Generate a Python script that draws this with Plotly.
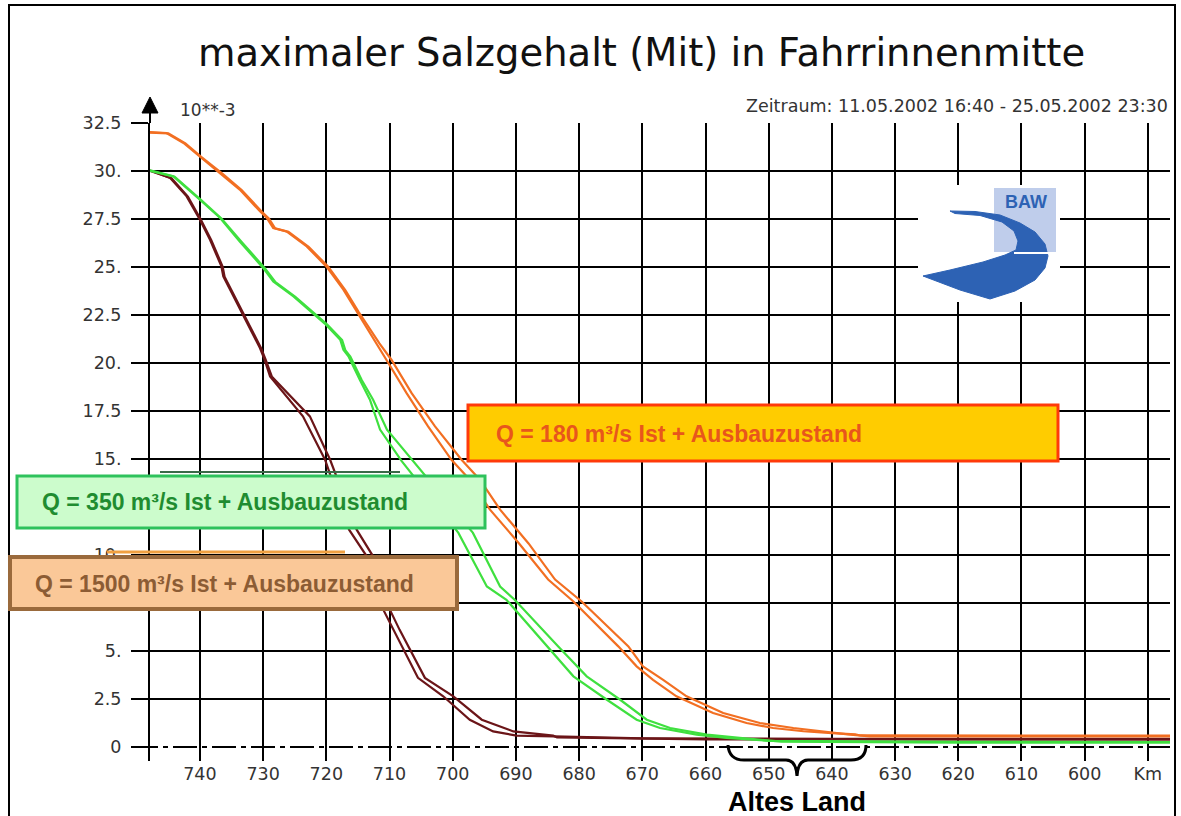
import plotly.graph_objects as go

# ---------------- data (salinity in 10**-3, along river km) ----------------
km_180_ist = [747.9, 745.3, 742.6, 740.0, 736.8, 733.7, 730.5, 729.4, 728.4, 726.3, 723.1, 720.0,
              717.3, 715.2, 712.0, 710.5, 707.3, 703.9, 700.2, 697.3, 694.1, 689.5, 684.9, 680.9,
              673.8, 670.9, 668.3, 664.6, 658.8, 653.5, 649.3, 644.5, 640.0, 636.3, 635.5, 620.0, 600.0, 586.5]
sal_180_ist = [32.02, 31.98, 31.46, 30.76, 29.90, 29.03, 27.90, 27.55, 27.03, 26.85, 26.07, 25.03,
               23.82, 22.69, 21.04, 20.17, 18.43, 16.70, 14.96, 13.92, 12.36, 10.60, 8.72, 7.58,
               5.24, 4.20, 3.50, 2.64, 1.77, 1.25, 0.99, 0.82, 0.72, 0.66, 0.60, 0.59, 0.59, 0.59]

km_180_aus = [747.9, 745.0, 742.3, 739.8, 736.5, 733.4, 730.2, 729.1, 728.1, 726.0, 722.8, 719.7,
              717.0, 714.9, 711.6, 709.7, 706.5, 702.8, 698.6, 695.7, 692.5, 688.0, 683.8, 679.6,
              672.2, 669.9, 666.7, 663.0, 657.2, 651.4, 646.1, 641.5, 637.5, 634.0, 620.0, 600.0, 586.5]
sal_180_aus = [32.00, 31.96, 31.44, 30.74, 29.88, 29.01, 27.88, 27.53, 27.01, 26.83, 26.05, 25.01,
               23.80, 22.67, 21.02, 20.17, 18.43, 16.70, 14.96, 13.92, 12.36, 10.60, 8.72, 7.58,
               5.24, 4.20, 3.50, 2.64, 1.77, 1.25, 0.99, 0.80, 0.66, 0.55, 0.55, 0.55, 0.55]

km_350_ist = [747.9, 744.2, 740.0, 736.8, 733.7, 730.0, 728.4, 725.2, 720.2, 717.8, 717.3, 716.5,
              714.7, 713.1, 711.5, 708.1, 699.1, 694.6, 691.5, 685.1, 680.9, 675.6, 670.9, 667.2,
              661.4, 656.7, 650.0, 620.0, 586.5]
sal_350_ist = [30.03, 29.72, 28.50, 27.55, 26.33, 24.95, 24.25, 23.47, 22.04, 21.21, 20.69, 20.35,
               19.13, 18.09, 16.53, 14.90, 11.15, 8.36, 7.67, 5.24, 3.68, 2.46, 1.42, 0.99,
               0.64, 0.47, 0.32, 0.27, 0.26]

km_350_aus = [747.9, 744.0, 739.8, 736.6, 733.4, 729.7, 728.1, 724.9, 719.9, 717.5, 717.0, 716.2,
              714.4, 712.6, 710.4, 706.3, 696.8, 692.5, 690.2, 683.3, 678.8, 673.5, 669.3, 665.6,
              659.8, 654.6, 648.0, 620.0, 586.5]
sal_350_aus = [30.01, 29.70, 28.48, 27.53, 26.31, 24.93, 24.23, 23.45, 22.02, 21.19, 20.67, 20.33,
               19.11, 18.09, 16.53, 14.90, 11.15, 8.36, 7.67, 5.24, 3.68, 2.46, 1.42, 0.99,
               0.64, 0.47, 0.28, 0.22, 0.22]

km_1500_ist = [747.9, 744.7, 742.1, 740.0, 738.4, 736.6, 736.3, 734.2, 732.6, 730.5, 729.8, 728.9,
               723.7, 720.2, 716.4, 713.6, 711.25, 709.4, 705.5, 701.5, 697.3, 693.6, 689.9,
               684.0, 670.0, 640.0, 586.5]
sal_1500_ist = [30.03, 29.64, 28.68, 27.46, 26.42, 25.03, 24.51, 23.13, 22.08, 20.78, 20.20, 19.30,
                17.22, 14.96, 11.32, 9.93, 7.32, 6.10, 3.60, 2.64, 1.42, 0.81, 0.59,
                0.55, 0.45, 0.42, 0.42]

km_1500_aus = [747.9, 744.5, 741.9, 739.8, 738.2, 736.4, 736.1, 734.0, 732.4, 730.3, 729.6, 728.6,
               722.6, 719.4, 715.2, 712.6, 710.2, 708.4, 704.4, 699.9, 695.4, 690.4, 684.1,
               683.5, 660.0, 620.0, 586.5]
sal_1500_aus = [30.01, 29.62, 28.66, 27.44, 26.40, 25.01, 24.49, 23.11, 22.06, 20.76, 20.18, 19.28,
                17.22, 14.96, 11.32, 9.93, 7.32, 6.10, 3.60, 2.64, 1.42, 0.81, 0.59,
                0.50, 0.40, 0.38, 0.38]

x_tickvals = [740, 730, 720, 710, 700, 690, 680, 670, 660, 650, 640, 630, 620, 610, 600, 590]
x_ticktext = ["740", "730", "720", "710", "700", "690", "680", "670", "660", "650", "640",
              "630", "620", "610", "600", "Km"]
y_tickvals = [0, 2.5, 5, 7.5, 10, 12.5, 15, 17.5, 20, 22.5, 25, 27.5, 30, 32.5]
# 12.5 is completely covered by the green label box in the original
y_ticktext = ["0", "2.5", "5.", "7.5", "10.", "", "15.", "17.5", "20.", "22.5", "25.",
              "27.5", "30.", "32.5"]

label_180 = "Q = 180 m³/s Ist + Ausbauzustand"
label_350 = "Q = 350 m³/s Ist + Ausbauzustand"
label_1500 = "Q = 1500 m³/s Ist + Ausbauzustand"

# ---------------- layout geometry (pixels) ----------------
W_FIG, H_FIG = 1181, 816
PL, PR, PT, PB = 150, 1170, 123, 761
PW, PH = PR - PL, PB - PT


def fx(x):
    return (x - PL) / PW


def fy(y):
    return (PB - y) / PH


def path(points, close=True):
    s = "M " + " L ".join(f"{fx(x):.5f},{fy(y):.5f}" for x, y in points)
    return s + (" Z" if close else "")


C_OR = "#F26F22"
C_GR = "#3FE03F"
C_BR = "#6B1518"
AX_FONT = "DejaVu Sans"
TXT = "#333333"

fig = go.Figure()
for kms, vals, col in [
    (km_1500_ist, sal_1500_ist, C_BR), (km_1500_aus, sal_1500_aus, C_BR),
    (km_350_ist, sal_350_ist, C_GR), (km_350_aus, sal_350_aus, C_GR),
    (km_180_ist, sal_180_ist, C_OR), (km_180_aus, sal_180_aus, C_OR),
]:
    fig.add_trace(go.Scatter(x=kms, y=vals, mode="lines",
                             line=dict(color=col, width=2.2), showlegend=False,
                             hoverinfo="skip"))

shapes = []
annotations = []

# outer frame
shapes.append(dict(type="rect", xref="paper", yref="paper", x0=fx(9), x1=fx(1175), y0=fy(830), y1=fy(5),
                   line=dict(color="black", width=2), fillcolor="rgba(0,0,0,0)", layer="above"))
# zero line dash-dot
shapes.append(dict(type="line", xref="paper", yref="y", x0=fx(134), x1=1, y0=0, y1=0,
                   line=dict(color="black", width=2, dash="24px,5px,5px,5px"), layer="above"))
# y axis extension + arrow
shapes.append(dict(type="line", xref="paper", yref="paper", x0=0, x1=0, y0=1, y1=fy(110),
                   line=dict(color="black", width=2), layer="above"))
shapes.append(dict(type="path", xref="paper", yref="paper",
                   path=path([(150, 97), (142, 113), (158, 113)]),
                   fillcolor="black", line=dict(color="black", width=1), layer="above"))

# logo backing and logo
shapes.append(dict(type="rect", xref="paper", yref="paper", x0=fx(918), x1=fx(1060), y0=fy(302), y1=fy(185),
                   fillcolor="white", line=dict(width=0), layer="above"))
shapes.append(dict(type="rect", xref="paper", yref="paper", x0=fx(994), x1=fx(1056), y0=fy(252), y1=fy(188),
                   fillcolor="#BFCDEB", line=dict(width=0), layer="above"))
swoosh = [(950, 211), (975, 211.5), (1000, 215), (1020, 223), (1035, 232), (1045, 244), (1048, 256),
          (1045, 268), (1035, 280), (1015, 291), (990, 299), (960, 290), (923, 276), (950, 270),
          (983, 262), (1005, 255), (1016, 250), (1018, 241), (1014, 231), (1002, 222), (980, 215.5),
          (955, 213.5)]
shapes.append(dict(type="path", xref="paper", yref="paper", path=path(swoosh),
                   fillcolor="#2D62B4", line=dict(color="#2D62B4", width=1), layer="above"))
shapes.append(dict(type="line", xref="paper", yref="paper", x0=fx(1014), x1=fx(1050), y0=fy(253), y1=fy(253),
                   line=dict(color="white", width=2), layer="above"))
annotations.append(dict(text="<b>BAW</b>", xref="paper", yref="paper", x=fx(1026), y=fy(202),
                        xanchor="center", yanchor="middle", showarrow=False,
                        font=dict(family="Liberation Sans", size=18, color="#2D62B4")))

# legend boxes
shapes.append(dict(type="rect", xref="paper", yref="paper", x0=fx(468), x1=fx(1058), y0=fy(461), y1=fy(405),
                   fillcolor="#FFCC00", line=dict(color="#FF3A0A", width=3), layer="above"))
annotations.append(dict(text="<b>" + label_180 + "</b>", xref="paper", yref="paper", x=fx(494), y=fy(434),
                        xanchor="left", yanchor="middle", showarrow=False,
                        font=dict(family="Liberation Sans", size=23, color="#E8561C")))

shapes.append(dict(type="line", xref="paper", yref="paper", x0=fx(160), x1=fx(400), y0=fy(472), y1=fy(472),
                   line=dict(color="#3A6A48", width=2), layer="above"))
shapes.append(dict(type="rect", xref="paper", yref="paper", x0=fx(17), x1=fx(485), y0=fy(528), y1=fy(476),
                   fillcolor="#CCFCCC", line=dict(color="#2EC25C", width=3), layer="above"))
annotations.append(dict(text="<b>" + label_350 + "</b>", xref="paper", yref="paper", x=fx(40), y=fy(502),
                        xanchor="left", yanchor="middle", showarrow=False,
                        font=dict(family="Liberation Sans", size=23, color="#1F8C30")))

shapes.append(dict(type="line", xref="paper", yref="paper", x0=fx(107), x1=fx(345), y0=fy(552), y1=fy(552),
                   line=dict(color="#F0A040", width=3), layer="above"))
shapes.append(dict(type="rect", xref="paper", yref="paper", x0=fx(10), x1=fx(457), y0=fy(609), y1=fy(557),
                   fillcolor="#FAC898", line=dict(color="#9A6A3C", width=4), layer="above"))
annotations.append(dict(text="<b>" + label_1500 + "</b>", xref="paper", yref="paper", x=fx(33), y=fy(584),
                        xanchor="left", yanchor="middle", showarrow=False,
                        font=dict(family="Liberation Sans", size=23, color="#8C5C34")))

# Altes Land brace
brace = ("M {a},{b} Q {c},{d} {e},{f} L {g},{h} Q {i},{j} {k},{l} Q {m},{n} {o},{p} L {q},{r} Q {s},{t} {u},{v}"
         ).format(a=fx(728), b=fy(745), c=fx(729), d=fy(760), e=fx(744), f=fy(760),
                  g=fx(786), h=fy(760), i=fx(796), j=fy(760), k=fx(797), l=fy(776),
                  m=fx(798), n=fy(760), o=fx(808), p=fy(760),
                  q=fx(851), r=fy(760), s=fx(866), t=fy(760), u=fx(866), v=fy(745))
shapes.append(dict(type="path", xref="paper", yref="paper", path=brace,
                   line=dict(color="black", width=3), layer="above"))
annotations.append(dict(text="<b>Altes Land</b>", xref="paper", yref="paper", x=fx(797), y=fy(802),
                        xanchor="center", yanchor="middle", showarrow=False,
                        font=dict(family="Liberation Sans", size=27, color="black")))

# texts
annotations.append(dict(text="maximaler Salzgehalt (Mit) in Fahrrinnenmitte", xref="paper", yref="paper",
                        x=fx(641), y=fy(53), xanchor="center", yanchor="middle", showarrow=False,
                        font=dict(family=AX_FONT, size=38.5, color="#111111")))
annotations.append(dict(text="Zeitraum: 11.05.2002 16:40 - 25.05.2002 23:30", xref="paper", yref="paper",
                        x=fx(1170), y=fy(106), xanchor="right", yanchor="middle", showarrow=False,
                        font=dict(family=AX_FONT, size=17.5, color=TXT)))
annotations.append(dict(text="10**-3", xref="paper", yref="paper",
                        x=fx(178), y=fy(110), xanchor="left", yanchor="middle", showarrow=False,
                        font=dict(family=AX_FONT, size=17, color=TXT)))

fig.update_layout(
    width=W_FIG, height=H_FIG, autosize=False,
    margin=dict(l=PL, r=W_FIG - PR, t=PT, b=H_FIG - PB, pad=0),
    paper_bgcolor="white", plot_bgcolor="white",
    shapes=shapes, annotations=annotations,
    xaxis=dict(range=[747.9, 586.5], tickmode="array", tickvals=x_tickvals, ticktext=x_ticktext,
               showgrid=True, gridcolor="black", gridwidth=2, ticks="", showline=False, zeroline=False,
               tickfont=dict(family=AX_FONT, size=17.5, color=TXT), fixedrange=True),
    yaxis=dict(range=[-0.73, 32.5], tickmode="array", tickvals=y_tickvals, ticktext=y_ticktext,
               showgrid=True, gridcolor="black", gridwidth=2, ticks="outside", ticklen=17, tickwidth=2,
               tickcolor="black", showline=True, linecolor="black", linewidth=2,
               zeroline=True, zerolinecolor="rgba(0,0,0,0)", zerolinewidth=1,
               ticklabelstandoff=6,
               tickfont=dict(family=AX_FONT, size=17.5, color=TXT), fixedrange=True),
)

fig.write_html("out.html", config={"displayModeBar": False},
               post_script="document.body.style.margin='0';document.body.style.overflow='hidden';")
